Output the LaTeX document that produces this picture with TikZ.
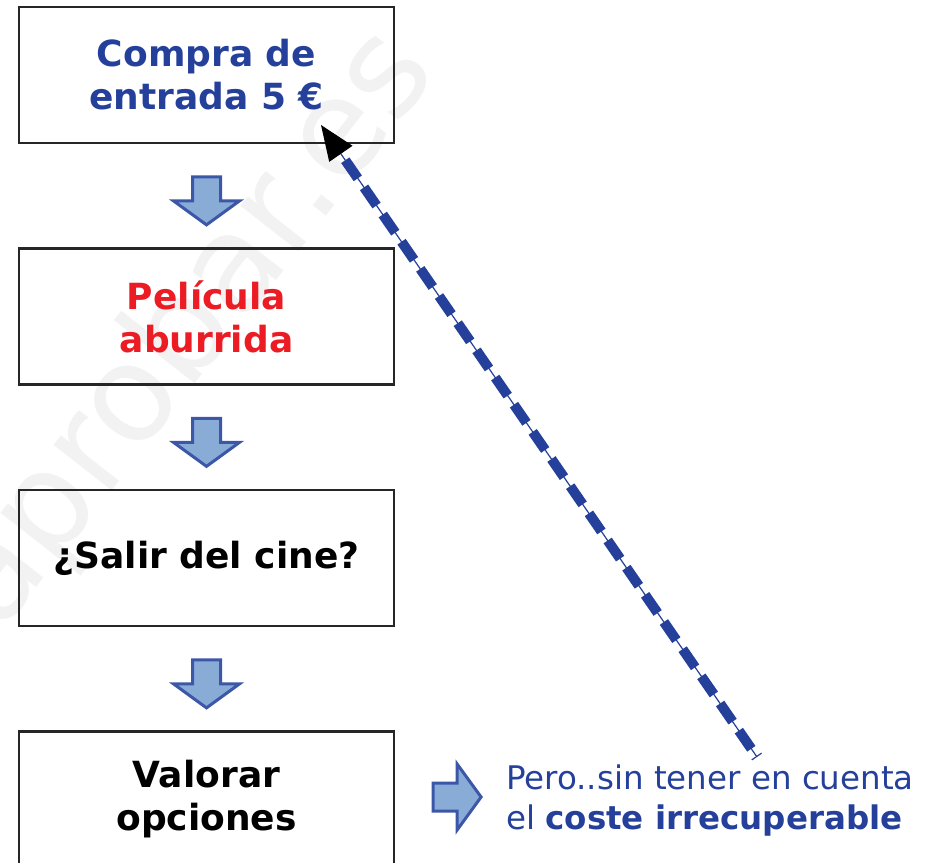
\documentclass[tikz,border=0pt]{standalone}
\usepackage{fontspec}
\setmainfont{DejaVu Sans}
\usetikzlibrary{shapes.arrows,arrows.meta,calc,positioning}

\definecolor{azul}{HTML}{24409A}
\definecolor{rojo}{HTML}{EC1C24}
\definecolor{borde}{HTML}{3C56A8}
\definecolor{relleno}{HTML}{89ACD7}

\tikzstyle{caja}=[draw=black!85, line width=2.5pt, minimum width=375pt, minimum height=136pt,
    inner sep=0pt, align=center, font=\fontsize{36}{43}\selectfont\bfseries]
\tikzstyle{flecha}=[single arrow, draw=borde, fill=relleno, line width=3pt, inner sep=0pt,
    inner ysep=12.5pt, minimum height=48pt, single arrow head extend=19pt, single arrow tip angle=108]
\tikzstyle{nota}=[align=left, inner sep=0pt, text=azul, font=\fontsize{32.5}{40}\selectfont]
\tikzstyle{marca}=[text=black!5, inner sep=0pt, font=\fontsize{135}{135}\selectfont]

\begin{document}
\begin{tikzpicture}[x=1pt,y=-1pt]
    \useasboundingbox (0,0) rectangle (933,862);
    \node[marca, rotate=52] (agua) at (190,330) {aprobar.es};

    \node[caja, text=azul] (compra) at (206.5,75) {Compra de\\entrada 5 €};
    \node[caja, text=rojo, below=103pt of compra] (pelicula) {Película\\aburrida};
    \node[caja, below=103pt of pelicula] (salir) {¿Salir del cine?};
    \node[caja, below=103pt of salir] (valorar) {Valorar\\opciones};

    \foreach \a/\b in {compra/pelicula, pelicula/salir, salir/valorar}
        \node[flecha, rotate=-90] (f-\a) at ($(\a.south)!0.5!(\b.north)$) {};

    \node[flecha] (f-nota) at (452,797) {};
    \node[nota, right=23pt of f-nota, yshift=-4pt] (pero) {Pero..sin tener en cuenta\\el \textbf{coste irrecuperable}};

    \coordinate (cola) at (757,757);
    \coordinate (punta) at (321,125);
    \draw[azul, line width=1.2pt, {Bar[width=12pt]}-{Triangle[length=35pt,width=28pt,color=black,fill=black]}] (cola) -- (punta);
    \draw[azul, line width=10pt, dash pattern=on 22pt off 11pt, shorten >=33pt, shorten <=10pt] (cola) -- (punta);
\end{tikzpicture}
\end{document}
